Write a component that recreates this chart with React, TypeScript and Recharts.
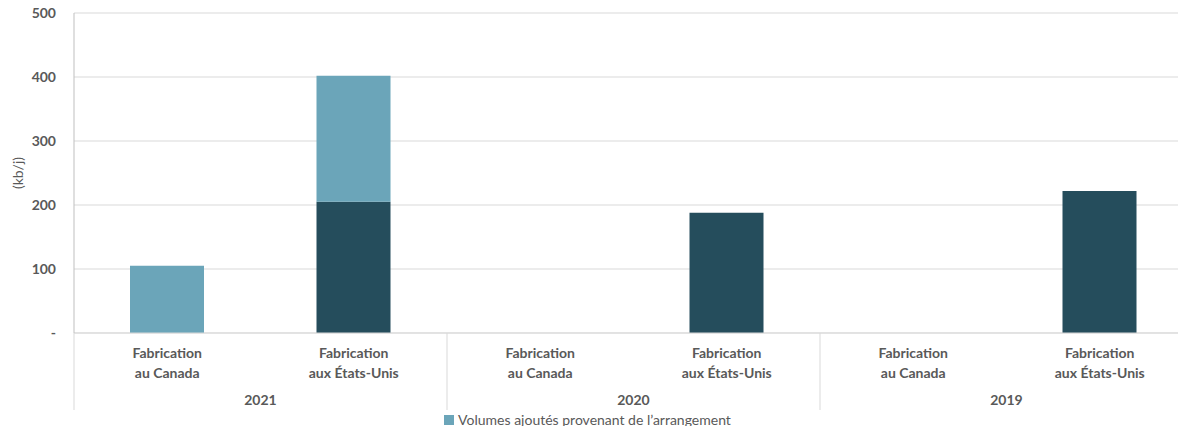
import { Bar, BarChart, CartesianGrid, Legend, XAxis, YAxis } from "recharts";

const categories = [
  ["Fabrication", "au Canada"],
  ["Fabrication", "aux États-Unis"],
  ["Fabrication", "au Canada"],
  ["Fabrication", "aux États-Unis"],
  ["Fabrication", "au Canada"],
  ["Fabrication", "aux États-Unis"],
];
const years = ["2021", "2021", "2020", "2020", "2019", "2019"];
const baseVolumes = [0, 205, 0, 188, 0, 222];
const addedVolumes = [105, 197, 0, 0, 0, 0];
const yTicks = [0, 100, 200, 300, 400, 500];

const rows = categories.map((lines, i) => ({
  name: lines.join(" "),
  lines,
  year: years[i],
  base: baseVolumes[i],
  added: addedVolumes[i],
}));

const CHART_W = 1200;
const CHART_H = 434;
const MARGIN = { top: 13, right: 7, left: 0, bottom: 8 };
const Y_AXIS_W = 74;
const PLOT_W = CHART_W - MARGIN.left - MARGIN.right - Y_AXIS_W;
const BAND = PLOT_W / rows.length;

const textGrey = "#595959";
const font = "Lato, 'Open Sans', sans-serif";

function CategoryTick(props: any) {
  const { x, y, index } = props;
  const row = rows[index];
  const startsGroup = index === 0 || rows[index - 1].year !== row.year;
  return (
    <g>
      <text x={x} y={y + 25} textAnchor="middle" fill={textGrey} fontSize={14} fontWeight={700} fontFamily={font}>
        <tspan x={x}>{row.lines[0]}</tspan>
        <tspan x={x} dy={20}>{row.lines[1]}</tspan>
      </text>
      {startsGroup && (
        <>
          <line x1={x - BAND / 2} x2={x - BAND / 2} y1={y} y2={y + 77} stroke="#d9d9d9" />
          <text x={x + BAND / 2} y={y + 72} textAnchor="middle" fill={textGrey} fontSize={14} fontWeight={700} fontFamily={font}>
            {row.year}
          </text>
        </>
      )}
      {index === rows.length - 1 && (
        <line x1={x + BAND / 2} x2={x + BAND / 2} y1={y} y2={y + 77} stroke="#d9d9d9" />
      )}
    </g>
  );
}

function UnitLabel(props: any) {
  const { viewBox } = props;
  const cx = viewBox.x + 17;
  const cy = viewBox.y + viewBox.height / 2;
  return (
    <text
      x={cx}
      y={cy}
      transform={`rotate(-90 ${cx} ${cy})`}
      textAnchor="middle"
      dominantBaseline="central"
      fill={textGrey}
      fontSize={14}
      fontFamily={font}
    >
      (kb/j)
    </text>
  );
}

function LegendContent(props: any) {
  const items = (props.payload || []).filter((p: any) => p.type !== "none");
  return (
    <div style={{ display: "flex", justifyContent: "center", alignItems: "center", height: 16, lineHeight: "16px" }}>
      {items.map((item: any) => (
        <span key={item.value} style={{ display: "flex", alignItems: "center", gap: 4 }}>
          <span style={{ width: 10, height: 10, background: item.color, display: "inline-block" }} />
          <span style={{ color: textGrey, fontSize: 14, fontFamily: font }}>{item.value}</span>
        </span>
      ))}
    </div>
  );
}

export default function App() {
  return (
    <div style={{ margin: -8, width: 1186, height: 434, overflow: "hidden", background: "#fff" }}>
      <BarChart width={CHART_W} height={CHART_H} data={rows} margin={MARGIN} barSize={74}>
        <CartesianGrid vertical={false} stroke="#d9d9d9" />
        <XAxis
          dataKey="name"
          interval={0}
          height={77}
          tickSize={0}
          tickMargin={0}
          tickLine={false}
          axisLine={{ stroke: "#d9d9d9" }}
          tick={<CategoryTick />}
        />
        <YAxis
          width={Y_AXIS_W}
          domain={[0, 500]}
          ticks={yTicks}
          tickLine={false}
          tickSize={0}
          tickMargin={18}
          axisLine={{ stroke: "#bfbfbf" }}
          tickFormatter={(v: number) => (v === 0 ? "-" : String(v))}
          tick={{ fill: textGrey, fontSize: 14, fontWeight: 700, fontFamily: font }}
          label={<UnitLabel />}
        />
        <Legend
          verticalAlign="bottom"
          content={<LegendContent />}
          wrapperStyle={{ left: -9, top: 412, bottom: "auto" }}
        />
        <Bar dataKey="base" stackId="a" fill="#254d5c" legendType="none" isAnimationActive={false} />
        <Bar
          dataKey="added"
          name="Volumes ajoutés provenant de l’arrangement"
          stackId="a"
          fill="#6ba5b9"
          isAnimationActive={false}
        />
      </BarChart>
    </div>
  );
}
